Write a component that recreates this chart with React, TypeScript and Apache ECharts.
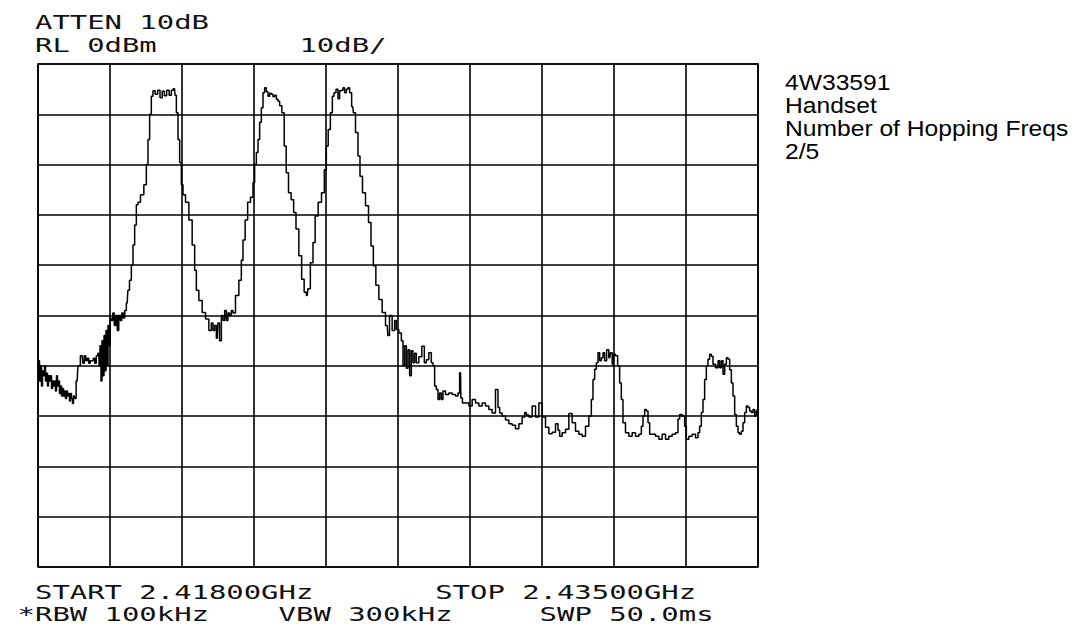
import React, { useEffect, useRef } from "react";
import * as echarts from "echarts";

// Sweep settings (MHz) and amplitude scale (dBm)
const START_MHZ = 2418;
const STOP_MHZ = 2435;
const SPAN_MHZ = STOP_MHZ - START_MHZ;
const REF_LEVEL_DBM = 0;
const DB_PER_DIV = 10;
const DIVISIONS = 10;

// Trace: frequency offset from START (MHz) and level (dBm)
const freqOffsetMHz = [
  0, 0.024, 0.047, 0.071, 0.094, 0.118, 0.142, 0.165, 0.189, 0.213, 0.236, 0.26, 0.283, 0.307, 0.331, 0.354,
  0.378, 0.401, 0.425, 0.449, 0.472, 0.496, 0.519, 0.543, 0.567, 0.59, 0.614, 0.637, 0.661, 0.685, 0.708, 0.732,
  0.756, 0.779, 0.803, 0.826, 0.85, 0.874, 0.926, 0.956, 1.044, 1.074, 1.11, 1.145, 1.181, 1.216, 1.251, 1.287,
  1.322, 1.358, 1.393, 1.436, 1.452, 1.476, 1.499, 1.523, 1.547, 1.57, 1.594, 1.617, 1.641, 1.665, 1.688, 1.724,
  1.747, 1.783, 1.818, 1.853, 1.889, 1.924, 1.96, 1.995, 2.031, 2.066, 2.106, 2.137, 2.184, 2.224, 2.262, 2.302,
  2.342, 2.38, 2.46, 2.538, 2.578, 2.616, 2.656, 2.696, 2.734, 2.798, 2.852, 2.909, 2.956, 3.01, 3.065, 3.128,
  3.169, 3.223, 3.247, 3.287, 3.324, 3.365, 3.405, 3.442, 3.523, 3.601, 3.679, 3.719, 3.759, 3.837, 3.915, 3.995,
  4.073, 4.113, 4.151, 4.191, 4.231, 4.262, 4.309, 4.349, 4.387, 4.427, 4.467, 4.505, 4.545, 4.585, 4.623, 4.703,
  4.781, 4.821, 4.859, 4.923, 4.977, 5.057, 5.095, 5.135, 5.176, 5.213, 5.253, 5.294, 5.331, 5.371, 5.412, 5.449,
  5.49, 5.53, 5.567, 5.608, 5.648, 5.686, 5.726, 5.789, 5.837, 5.884, 5.945, 6.009, 6.063, 6.12, 6.198, 6.252,
  6.316, 6.356, 6.387, 6.474, 6.512, 6.576, 6.654, 6.734, 6.788, 6.828, 6.876, 6.93, 6.97, 7.008, 7.064, 7.102,
  7.142, 7.182, 7.22, 7.26, 7.301, 7.338, 7.378, 7.433, 7.456, 7.537, 7.574, 7.631, 7.692, 7.773, 7.834, 7.891,
  7.945, 8.009, 8.087, 8.165, 8.245, 8.276, 8.323, 8.401, 8.441, 8.481, 8.559, 8.599, 8.637, 8.677, 8.717, 8.755,
  8.795, 8.835, 8.873, 8.913, 8.953, 9.031, 9.095, 9.149, 9.189, 9.267, 9.307, 9.345, 9.385, 9.425, 9.463, 9.503,
  9.543, 9.581, 9.661, 9.739, 9.817, 9.897, 9.935, 9.976, 9.992, 10.053, 10.134, 10.212, 10.29, 10.37, 10.448, 10.526,
  10.606, 10.684, 10.762, 10.842, 10.88, 10.92, 10.998, 11.078, 11.156, 11.234, 11.314, 11.392, 11.47, 11.511, 11.551, 11.629,
  11.707, 11.787, 11.865, 11.943, 12.023, 12.101, 12.179, 12.259, 12.297, 12.337, 12.415, 12.495, 12.573, 12.651, 12.731, 12.809,
  12.887, 12.967, 13.045, 13.085, 13.123, 13.163, 13.203, 13.241, 13.281, 13.321, 13.359, 13.399, 13.453, 13.501, 13.534, 13.581,
  13.611, 13.659, 13.713, 13.753, 13.793, 13.831, 13.912, 13.99, 14.068, 14.148, 14.226, 14.266, 14.304, 14.344, 14.384, 14.422,
  14.462, 14.54, 14.62, 14.698, 14.776, 14.856, 14.934, 15.012, 15.092, 15.13, 15.17, 15.248, 15.288, 15.328, 15.406, 15.484,
  15.564, 15.602, 15.642, 15.682, 15.72, 15.76, 15.8, 15.838, 15.878, 15.918, 15.956, 16.037, 16.075, 16.115, 16.155, 16.193,
  16.233, 16.273, 16.311, 16.351, 16.391, 16.429, 16.469, 16.509, 16.547, 16.587, 16.627, 16.665, 16.705, 16.745, 16.783, 16.823,
  16.863, 16.901, 16.941, 16.981, 17.0,
];

const levelDbm = [
  -61, -59, -63, -60, -64, -61, -62, -60, -63, -61.5, -64, -62, -63, -62, -64.5, -63,
  -64, -63, -65, -62, -64, -63, -65.5, -64, -66, -64.5, -66, -65, -66.5, -65, -66, -65.5,
  -67, -65.5, -66.5, -67.5, -66, -66.5, -63, -60, -58, -59.5, -58, -59, -58.5, -59.5, -59, -59,
  -58.5, -59.5, -58, -57.5, -60, -56, -63, -55, -62, -54, -61, -53, -60, -52, -56, -50.5,
  -51, -49.5, -52, -50, -53, -50, -51, -49.5, -50.5, -49, -47.5, -45, -43, -40, -36, -32,
  -28, -27.5, -26, -24, -20, -15, -10, -6.4, -5.3, -6, -5.2, -6.7, -5.4, -6.3, -5.2, -6.2,
  -5.2, -4.9, -6.2, -9.7, -15, -19.6, -24, -26, -27.5, -31, -36, -41, -45, -47, -49.4, -50.7,
  -53, -51.5, -53, -52, -54.5, -51.5, -55, -50, -51, -49, -51, -49.5, -50, -49, -49.5, -46,
  -43, -39, -35, -31, -27.5, -26.5, -23.6, -20, -17.6, -15, -11.6, -8.7, -5.7, -4.7, -5.5, -6.4,
  -5.8, -6, -6.5, -6.2, -7, -7.4, -8.3, -9.7, -16.3, -21.6, -25.6, -27, -29.5, -32.8, -38.1, -42.8,
  -45.4, -46, -44.7, -39.5, -35.5, -30.2, -27.5, -25.6, -21, -16.3, -13, -9.7, -6.4, -5.7, -5, -6.9,
  -5.3, -5.2, -4.7, -5.7, -5, -4.7, -5.7, -8.5, -9.7, -13.6, -18.3, -22.3, -25.6, -28.2, -31.5, -36.2,
  -40.1, -44, -46.8, -49.4, -52, -54, -50, -53, -51, -52.8, -53.5, -55, -60, -56, -60.5, -56.8,
  -62, -57, -59.4, -57.5, -59.4, -58.2, -56.1, -59.4, -58.8, -57.4, -59.4, -60, -64, -64.7, -66.7, -65.4,
  -66.7, -65, -65.7, -65.4, -65.7, -66, -65.4, -61.4, -66.4, -67.4, -67.4, -68, -66.7, -67.4, -68, -67.4,
  -68, -68.7, -69.4, -64.7, -68.3, -69.4, -70, -70.8, -71.5, -71.8, -72.5, -71.5, -70.2, -69.3, -69.8, -70.2,
  -68, -70.2, -67.4, -70.2, -72.2, -73.5, -73.2, -71.5, -72.8, -74, -73.3, -72.6, -69.5, -71.3, -73, -73.6,
  -74, -72, -70, -66.7, -62.7, -60.7, -59.4, -57.4, -59, -58.4, -57.4, -59, -56.8, -58.4, -57.4, -59.7,
  -57.7, -58, -60, -63.4, -66.7, -71.3, -73.3, -74, -73.3, -74, -73.6, -72, -70, -68.7, -69, -71.3,
  -73.6, -73.6, -74, -74.6, -73.6, -74.6, -74, -73.6, -73.3, -70.6, -69.7, -70, -72, -74.6, -74, -73.6,
  -74.3, -73.3, -72, -69.3, -66.7, -62.7, -60, -58.7, -57.7, -58.1, -59.7, -60.4, -59, -60.4, -59, -61.7,
  -59.7, -58.4, -58.7, -60.8, -63.4, -66, -69.7, -72, -73.3, -73.6, -73, -71.3, -69.3, -68, -68.3, -69,
  -69.3, -68.7, -70, -69, -68.5,
];

// Analyzer annotation texts
const headerTexts = ["ATTEN 10dB", "RL 0dBm"];
const scaleText = "10dB/";
const startText = "START 2.41800GHz";
const stopText = "STOP 2.43500GHz";
const bandwidthTexts = ["*RBW 100kHz", "VBW 300kHz", "SWP 50.0ms"];
const noteTexts = ["4W33591", "Handset", "Number of Hopping Freqs", "2/5"];

const HP_FONT_SIZE = 20;
const HP_PITCH = 17.4;
const HP_SCALE_X = HP_PITCH / (0.602 * HP_FONT_SIZE);
const HP_X0 = 35;

function hpText(text: string, col: number, y: number) {
  return {
    type: "text",
    x: HP_X0 + col * HP_PITCH,
    y,
    scaleX: HP_SCALE_X,
    silent: true,
    style: {
      text,
      fill: "#111",
      font: `${HP_FONT_SIZE}px "DejaVu Sans Mono", monospace`,
      textAlign: "left",
      textVerticalAlign: "middle",
      verticalAlign: "middle",
    },
  };
}

export default function App() {
  const ref = useRef<HTMLDivElement>(null);

  useEffect(() => {
    if (!ref.current) return;
    const chart = echarts.init(ref.current, undefined, { renderer: "svg" });
    const trace = freqOffsetMHz.map((f, i) => [f, levelDbm[i]]);

    const graphic: any[] = [
      hpText(headerTexts[0], 0, 22),
      hpText(headerTexts[1], 0, 45),
      hpText(scaleText, 15.2, 45),
      hpText(startText, 0, 592),
      hpText(stopText, 23, 592),
      hpText(bandwidthTexts[0], -1, 614),
      hpText(bandwidthTexts[1], 14, 614),
      hpText(bandwidthTexts[2], 29, 614),
      ...noteTexts.map((t, i) => ({
        type: "text",
        x: 785,
        y: 82 + i * 23.2,
        scaleX: 1.12,
        silent: true,
        style: {
          text: t,
          fill: "#000",
          font: '22px "Liberation Sans", Arial, sans-serif',
          textAlign: "left",
          textVerticalAlign: "middle",
          verticalAlign: "middle",
        },
      })),
    ];

    chart.setOption({
      animation: false,
      backgroundColor: "#fff",
      grid: {
        left: 38,
        top: 64,
        width: 720,
        height: 503,
        show: true,
        borderColor: "#000",
        borderWidth: 1.6,
        backgroundColor: "transparent",
      },
      xAxis: {
        type: "value",
        min: 0,
        max: SPAN_MHZ,
        interval: SPAN_MHZ / DIVISIONS,
        axisLine: { show: false },
        axisTick: { show: false },
        axisLabel: { show: false },
        splitLine: { show: true, lineStyle: { color: "#000", width: 1.6 } },
      },
      yAxis: {
        type: "value",
        min: REF_LEVEL_DBM - DB_PER_DIV * DIVISIONS,
        max: REF_LEVEL_DBM,
        interval: DB_PER_DIV,
        axisLine: { show: false },
        axisTick: { show: false },
        axisLabel: { show: false },
        splitLine: { show: true, lineStyle: { color: "#000", width: 1.6 } },
      },
      series: [
        {
          type: "line",
          data: trace,
          step: "middle",
          symbol: "none",
          silent: true,
          lineStyle: { color: "#000", width: 1.5 },
          z: 5,
        },
      ],
      graphic,
    });

    return () => chart.dispose();
  }, []);

  return (
    <div
      ref={ref}
      style={{ position: "fixed", left: 0, top: 0, width: 1078, height: 634, background: "#fff" }}
    />
  );
}
